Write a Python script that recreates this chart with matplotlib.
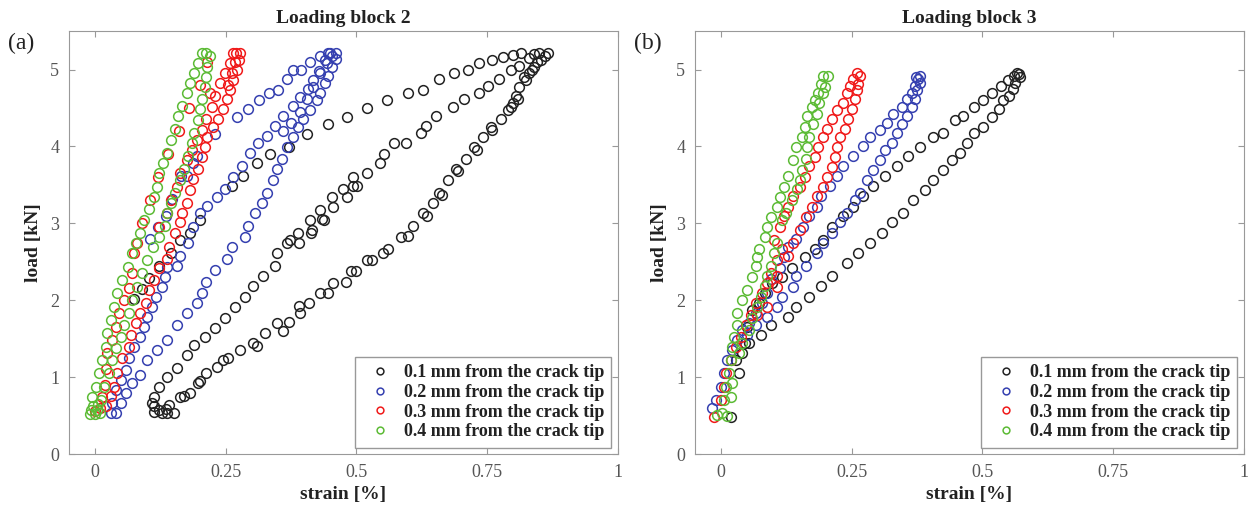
import numpy as np
import matplotlib
matplotlib.use('Agg')
from matplotlib import pyplot as plt

plt.rcParams['font.family'] = ['Liberation Serif', 'DejaVu Serif']

labels = ['0.1 mm from the crack tip', '0.2 mm from the crack tip',
          '0.3 mm from the crack tip', '0.4 mm from the crack tip']
colors = ['#222222', '#3540b0', '#f01a1a', '#5cbb35']

# loading block 2 - (strain [%], load [kN])
b2_01 = [
    # lower right branch
    (0.123, 0.57), (0.142, 0.64), (0.162, 0.74), (0.181, 0.80), (0.196, 0.92), (0.213, 1.05),
    (0.233, 1.13), (0.254, 1.25), (0.277, 1.35), (0.302, 1.45), (0.325, 1.58), (0.348, 1.71),
    (0.37, 1.72), (0.392, 1.83), (0.41, 1.97), (0.43, 2.10), (0.456, 2.23), (0.48, 2.24),
    (0.49, 2.38), (0.521, 2.52), (0.53, 2.53), (0.56, 2.67), (0.585, 2.82), (0.608, 2.97),
    (0.627, 3.13), (0.646, 3.27), (0.658, 3.40), (0.675, 3.56), (0.69, 3.71), (0.71, 3.84),
    (0.725, 3.99), (0.742, 4.12), (0.758, 4.25), (0.777, 4.36), (0.79, 4.47), (0.80, 4.56),
    (0.806, 4.66), (0.812, 4.77), (0.825, 4.86), (0.831, 4.95), (0.84, 5.03), (0.854, 5.12),
    (0.867, 5.21), (0.85, 5.22), (0.86, 5.18), (0.845, 5.10), (0.835, 5.0), (0.82, 4.9),
    (0.81, 4.62), (0.795, 4.52), (0.76, 4.22), (0.73, 3.95), (0.695, 3.68), (0.664, 3.37),
    (0.635, 3.10), (0.598, 2.84), (0.55, 2.62), (0.50, 2.38), (0.445, 2.10), (0.39, 1.92),
    (0.36, 1.60), (0.31, 1.40), (0.245, 1.22), (0.20, 0.95), (0.17, 0.76),
    # bottom hook
    (0.113, 0.55), (0.127, 0.53), (0.138, 0.53), (0.15, 0.53), (0.112, 0.62), (0.135, 0.58),
    # middle branch
    (0.108, 0.66), (0.113, 0.74), (0.123, 0.87), (0.138, 1.00), (0.156, 1.12), (0.175, 1.29),
    (0.19, 1.42), (0.21, 1.52), (0.229, 1.64), (0.248, 1.77), (0.267, 1.91), (0.287, 2.04),
    (0.302, 2.19), (0.321, 2.32), (0.344, 2.45), (0.348, 2.61), (0.367, 2.75), (0.373, 2.78),
    (0.39, 2.74), (0.388, 2.87), (0.413, 2.88), (0.415, 2.91), (0.412, 3.05), (0.434, 3.06),
    (0.431, 3.18), (0.438, 3.04), (0.454, 3.34), (0.456, 3.21), (0.475, 3.45), (0.481, 3.34),
    (0.494, 3.49), (0.502, 3.48), (0.494, 3.60), (0.521, 3.65), (0.546, 3.78), (0.552, 3.90),
    (0.571, 4.04), (0.594, 4.04), (0.623, 4.17), (0.633, 4.27), (0.652, 4.40), (0.684, 4.51),
    (0.706, 4.62), (0.735, 4.70), (0.752, 4.79), (0.773, 4.88), (0.796, 4.99), (0.812, 5.05),
    (0.83, 5.15), (0.84, 5.20),
    # upper sparse branch
    (0.815, 5.21), (0.80, 5.19), (0.78, 5.16), (0.76, 5.12), (0.735, 5.08), (0.713, 5.00),
    (0.687, 4.95), (0.658, 4.88), (0.627, 4.73), (0.598, 4.70), (0.559, 4.60), (0.521, 4.50),
    (0.482, 4.39), (0.446, 4.29), (0.405, 4.16), (0.37, 3.99), (0.335, 3.90), (0.31, 3.78),
    (0.283, 3.62), (0.262, 3.48), (0.2, 3.04), (0.181, 2.87), (0.162, 2.78), (0.146, 2.61),
    (0.123, 2.45), (0.104, 2.29), (0.09, 2.14), (0.075, 2.02),
]
b2_02 = [
    # bottom and left branch
    (0.031, 0.53), (0.04, 0.53), (0.033, 0.66), (0.04, 0.83), (0.05, 0.96), (0.06, 1.09),
    (0.065, 1.25), (0.075, 1.39), (0.085, 1.52), (0.094, 1.65), (0.10, 1.78), (0.108, 1.91),
    (0.117, 2.04), (0.127, 2.17), (0.133, 2.30), (0.138, 2.43), (0.156, 2.45), (0.162, 2.58),
    (0.177, 2.74), (0.187, 2.95), (0.2, 3.13), (0.215, 3.23), (0.233, 3.34), (0.248, 3.45),
    (0.263, 3.60), (0.281, 3.75), (0.296, 3.91), (0.312, 4.04), (0.329, 4.14), (0.344, 4.27),
    (0.36, 4.40), (0.379, 4.53), (0.392, 4.64), (0.408, 4.75), (0.417, 4.86), (0.431, 4.96),
    (0.444, 5.09), (0.454, 5.18),
    # right branch
    (0.05, 0.66), (0.06, 0.79), (0.071, 0.92), (0.085, 1.03), (0.10, 1.22), (0.119, 1.35),
    (0.138, 1.48), (0.156, 1.68), (0.175, 1.83), (0.194, 1.97), (0.204, 2.09), (0.213, 2.24),
    (0.229, 2.39), (0.252, 2.54), (0.262, 2.69), (0.287, 2.82), (0.292, 2.97), (0.306, 3.13),
    (0.319, 3.27), (0.329, 3.40), (0.34, 3.56), (0.348, 3.71), (0.358, 3.84), (0.367, 3.99),
    (0.379, 4.12), (0.388, 4.25), (0.398, 4.36), (0.412, 4.47), (0.425, 4.60), (0.431, 4.70),
    (0.44, 4.82), (0.446, 4.92), (0.454, 5.03), (0.46, 5.14), (0.46, 5.21), (0.45, 5.22),
    (0.44, 5.12), (0.428, 4.98), (0.417, 4.78), (0.405, 4.62), (0.392, 4.45), (0.375, 4.30),
    (0.36, 4.20),
    # upper sparse branch
    (0.446, 5.22), (0.431, 5.18), (0.412, 5.10), (0.394, 5.00), (0.379, 5.00), (0.367, 4.88),
    (0.35, 4.73), (0.333, 4.70), (0.313, 4.60), (0.292, 4.49), (0.271, 4.38), (0.229, 4.16),
    (0.194, 3.88), (0.187, 3.78), (0.175, 3.62), (0.165, 3.62), (0.148, 3.32), (0.135, 3.10),
    (0.12, 2.95), (0.105, 2.80),
]
b2_03 = [
    # left branch
    (0.0, 0.56), (0.01, 0.60), (0.013, 0.74), (0.018, 0.90), (0.02, 1.10), (0.023, 1.31),
    (0.033, 1.48), (0.04, 1.65), (0.046, 1.83), (0.056, 2.00), (0.065, 2.16), (0.071, 2.35),
    (0.075, 2.61), (0.081, 2.74), (0.09, 3.00), (0.105, 3.30), (0.12, 3.60), (0.14, 3.90),
    (0.16, 4.20), (0.18, 4.50), (0.20, 4.80), (0.215, 5.10),
    # middle branch
    (0.123, 2.95), (0.137, 3.13), (0.146, 3.30), (0.156, 3.47), (0.162, 3.65), (0.175, 3.82),
    (0.185, 3.95), (0.194, 4.08), (0.204, 4.21), (0.213, 4.36), (0.223, 4.51), (0.229, 4.66),
    (0.238, 4.82), (0.248, 4.95), (0.258, 5.09), (0.263, 5.21), (0.219, 4.69),
    # right branch
    (0.02, 0.62), (0.03, 0.75), (0.037, 0.87), (0.042, 1.05), (0.052, 1.25), (0.065, 1.39),
    (0.069, 1.55), (0.079, 1.70), (0.085, 1.84), (0.098, 1.97), (0.104, 2.13), (0.113, 2.26),
    (0.123, 2.42), (0.137, 2.54), (0.142, 2.69), (0.152, 2.87), (0.162, 3.02), (0.167, 3.14),
    (0.175, 3.27), (0.181, 3.43), (0.187, 3.58), (0.196, 3.71), (0.204, 3.86), (0.21, 3.99),
    (0.215, 4.12), (0.225, 4.26), (0.235, 4.36), (0.244, 4.49), (0.252, 4.62), (0.258, 4.73),
    (0.263, 4.86), (0.271, 4.99), (0.275, 5.12), (0.277, 5.21), (0.27, 5.22), (0.268, 5.10),
    (0.262, 4.96), (0.255, 4.80),
]
b2_04 = [
    # left branch
    (-0.008, 0.57), (-0.006, 0.74), (0.002, 0.87), (0.008, 1.05), (0.013, 1.22), (0.021, 1.39),
    (0.023, 1.57), (0.031, 1.74), (0.037, 1.91), (0.042, 2.09), (0.052, 2.26), (0.062, 2.43),
    (0.071, 2.61), (0.079, 2.75), (0.085, 2.88), (0.094, 3.04), (0.104, 3.19), (0.113, 3.34),
    (0.119, 3.47), (0.123, 3.65), (0.129, 3.78), (0.138, 3.92), (0.146, 4.08), (0.152, 4.23),
    (0.158, 4.40), (0.167, 4.53), (0.175, 4.69), (0.181, 4.82), (0.19, 4.95), (0.196, 5.09),
    (0.204, 5.21),
    # right branch
    (0.004, 0.57), (0.012, 0.70), (0.017, 0.87), (0.027, 1.05), (0.033, 1.22), (0.04, 1.38),
    (0.05, 1.52), (0.056, 1.68), (0.065, 1.84), (0.071, 2.00), (0.081, 2.17), (0.09, 2.35),
    (0.10, 2.52), (0.11, 2.69), (0.123, 2.82), (0.133, 2.97), (0.138, 3.13), (0.146, 3.26),
    (0.152, 3.40), (0.162, 3.56), (0.171, 3.71), (0.177, 3.88), (0.185, 4.04), (0.19, 4.18),
    (0.196, 4.34), (0.20, 4.49), (0.204, 4.62), (0.21, 4.77), (0.213, 4.90), (0.215, 5.03),
    (0.219, 5.18), (0.212, 5.22),
    # bottom cluster
    (-0.01, 0.52), (0.0, 0.52), (0.01, 0.54), (-0.004, 0.62), (0.006, 0.65),
]

# loading block 3
b3_01 = [
    (0.019, 0.48), (0.029, 1.22), (0.04, 1.31), (0.054, 1.44), (0.077, 1.55), (0.096, 1.68),
    (0.127, 1.78), (0.144, 1.91), (0.169, 2.04), (0.192, 2.19), (0.213, 2.32), (0.24, 2.48),
    (0.262, 2.61), (0.285, 2.74), (0.308, 2.87), (0.327, 3.02), (0.348, 3.14), (0.367, 3.30),
    (0.39, 3.43), (0.406, 3.56), (0.425, 3.69), (0.442, 3.82), (0.458, 3.92), (0.471, 4.05),
    (0.483, 4.17), (0.502, 4.25), (0.519, 4.38), (0.531, 4.49), (0.54, 4.60), (0.55, 4.66),
    (0.558, 4.75), (0.563, 4.83), (0.571, 4.90), (0.567, 4.96),
    # upper branch
    (0.06, 1.87), (0.073, 1.97), (0.083, 2.09), (0.098, 2.22), (0.117, 2.30), (0.135, 2.42),
    (0.16, 2.56), (0.179, 2.67), (0.194, 2.78), (0.213, 2.95), (0.233, 3.10), (0.252, 3.21),
    (0.271, 3.36), (0.29, 3.49), (0.313, 3.62), (0.336, 3.75), (0.358, 3.88), (0.381, 3.99),
    (0.406, 4.12), (0.425, 4.18), (0.448, 4.34), (0.463, 4.40), (0.483, 4.51), (0.502, 4.60),
    (0.519, 4.70), (0.535, 4.79), (0.548, 4.86), (0.56, 4.92), (0.569, 4.94),
    (0.035, 1.05), (0.045, 1.45), (0.05, 1.65),
]
b3_02 = [
    (-0.017, 0.60), (-0.01, 0.70), (0.0, 0.87), (0.006, 1.05), (0.012, 1.22), (0.02, 1.35),
    (0.031, 1.48), (0.04, 1.61), (0.054, 1.71), (0.067, 1.84), (0.079, 1.97), (0.087, 2.10),
    (0.096, 2.28), (0.112, 2.42), (0.121, 2.56), (0.127, 2.69), (0.144, 2.80), (0.156, 2.95),
    (0.169, 3.10), (0.183, 3.21), (0.192, 3.36), (0.208, 3.49), (0.221, 3.62), (0.233, 3.75),
    (0.252, 3.88), (0.271, 4.01), (0.285, 4.12), (0.304, 4.21), (0.317, 4.31), (0.329, 4.42),
    (0.346, 4.51), (0.356, 4.62), (0.365, 4.70), (0.371, 4.79), (0.377, 4.88), (0.381, 4.92),
    # right branch
    (0.05, 1.55), (0.067, 1.68), (0.087, 1.78), (0.106, 1.91), (0.117, 2.04), (0.137, 2.17),
    (0.144, 2.32), (0.163, 2.45), (0.183, 2.61), (0.194, 2.74), (0.212, 2.87), (0.227, 3.02),
    (0.24, 3.14), (0.256, 3.30), (0.265, 3.40), (0.279, 3.56), (0.29, 3.69), (0.304, 3.82),
    (0.313, 3.95), (0.327, 4.05), (0.336, 4.18), (0.346, 4.29), (0.356, 4.40), (0.365, 4.51),
    (0.371, 4.62), (0.375, 4.73), (0.381, 4.83), (0.372, 4.90),
]
b3_03 = [
    (-0.013, 0.48), (0.0, 0.70), (0.006, 0.87), (0.01, 1.05), (0.019, 1.22), (0.029, 1.39),
    (0.038, 1.52), (0.048, 1.68), (0.058, 1.81), (0.067, 1.96), (0.079, 2.09), (0.088, 2.23),
    (0.096, 2.36), (0.106, 2.52), (0.117, 2.67), (0.102, 2.78), (0.112, 2.95), (0.121, 3.10),
    (0.127, 3.21), (0.137, 3.36), (0.15, 3.47), (0.16, 3.60), (0.169, 3.75), (0.179, 3.86),
    (0.185, 3.99), (0.194, 4.12), (0.202, 4.23), (0.212, 4.36), (0.221, 4.47), (0.233, 4.57),
    (0.24, 4.69), (0.246, 4.79), (0.252, 4.88), (0.26, 4.95),
    # right branch
    (0.069, 1.81), (0.087, 1.91), (0.106, 2.17), (0.106, 2.32), (0.127, 2.58), (0.137, 2.74),
    (0.15, 2.91), (0.163, 3.08), (0.173, 3.21), (0.183, 3.36), (0.194, 3.47), (0.202, 3.60),
    (0.212, 3.73), (0.217, 3.86), (0.221, 3.99), (0.227, 4.12), (0.237, 4.23), (0.242, 4.36),
    (0.25, 4.49), (0.256, 4.62), (0.26, 4.73), (0.262, 4.81), (0.265, 4.92),
]
b3_04 = [
    (-0.008, 0.51), (0.002, 0.53), (0.006, 0.70), (0.01, 0.87), (0.015, 1.05), (0.019, 1.22),
    (0.021, 1.39), (0.025, 1.52), (0.031, 1.68), (0.031, 1.84), (0.04, 2.00), (0.05, 2.13),
    (0.06, 2.30), (0.067, 2.45), (0.069, 2.56), (0.073, 2.67), (0.083, 2.82), (0.088, 2.95),
    (0.096, 3.08), (0.106, 3.21), (0.112, 3.34), (0.121, 3.47), (0.127, 3.62), (0.137, 3.82),
    (0.144, 3.99), (0.154, 4.12), (0.16, 4.25), (0.165, 4.40), (0.173, 4.51), (0.179, 4.60),
    (0.185, 4.70), (0.192, 4.81), (0.194, 4.92),
    # right branch
    (0.012, 0.50), (0.019, 0.74), (0.021, 0.92), (0.035, 1.31), (0.04, 1.45), (0.054, 1.61),
    (0.06, 1.77), (0.069, 1.91), (0.077, 2.04), (0.083, 2.19), (0.087, 2.32), (0.096, 2.45),
    (0.102, 2.61), (0.106, 2.74), (0.117, 3.04), (0.125, 3.14), (0.135, 3.30), (0.146, 3.45),
    (0.15, 3.56), (0.154, 3.69), (0.163, 3.84), (0.165, 3.99), (0.169, 4.12), (0.175, 4.29),
    (0.183, 4.42), (0.188, 4.56), (0.194, 4.69), (0.198, 4.77), (0.204, 4.92),
]

panels = [('Loading block 2', '(a)', [b2_01, b2_02, b2_03, b2_04]),
          ('Loading block 3', '(b)', [b3_01, b3_02, b3_03, b3_04])]

fig = plt.figure(figsize=(12.5, 5.07), dpi=100)
lefts = [0.0552, 0.556]
for (title, tag, series), left in zip(panels, lefts):
    ax = fig.add_axes([left, 0.1045, 0.439, 0.834])
    for pts, c, lab in zip(series, colors, labels):
        a = np.array(pts)
        ax.plot(a[:, 0], a[:, 1], 'o', mfc='none', mec=c, mew=1.1, ms=7, label=lab)
    ax.set_xlim(-0.05, 1)
    ax.set_ylim(0, 5.5)
    ax.set_xticks([0, 0.25, 0.5, 0.75, 1])
    ax.set_xticklabels(['0', '0.25', '0.5', '0.75', '1'])
    ax.set_yticks([0, 1, 2, 3, 4, 5])
    ax.tick_params(direction='in', top=True, right=True, labelsize=13,
                   colors='#999999', labelcolor='#555555', length=4, pad=7)
    for s in ax.spines.values():
        s.set_color('#999999')
    ax.set_title(title, fontsize=14, fontweight='bold', color='#222222', pad=6)
    ax.set_xlabel('strain [%]', fontsize=14, fontweight='bold', color='#222222', labelpad=4)
    ax.set_ylabel('load [kN]', fontsize=14, fontweight='bold', color='#222222', labelpad=6)
    leg = ax.legend(loc='lower right', prop={'weight': 'bold', 'size': 13},
                    markerscale=0.7, handletextpad=0.3, borderaxespad=0.35,
                    labelspacing=0.15, fancybox=False, framealpha=1)
    leg.get_frame().set_edgecolor('#999999')
    for t in leg.get_texts():
        t.set_color('#222222')
    fig.text(left - 0.049, 0.915, tag, fontsize=17, color='#222222', va='center')

fig.savefig('out.png', dpi=100)
